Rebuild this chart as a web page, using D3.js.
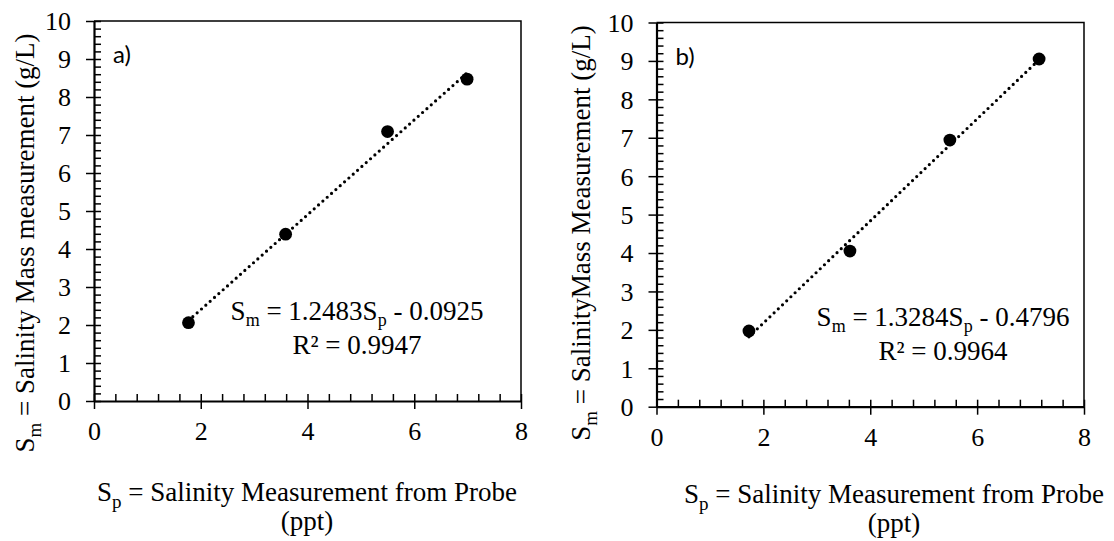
<!DOCTYPE html>
<html>
<head>
<meta charset="utf-8">
<script src="https://cdn.jsdelivr.net/npm/d3@7"></script>
<style>
  body { margin: 0; background: #fff; }
</style>
</head>
<body>
<svg id="chart" width="1114" height="541"></svg>
<script>
// axis ticks
var xTicks = [0, 2, 4, 6, 8];
var yTicks = [0, 1, 2, 3, 4, 5, 6, 7, 8, 9, 10];

// panel a) measured points
var spA = [1.77, 3.59, 5.50, 6.99];
var smA = [2.06, 4.39, 7.09, 8.47];
// panel b) measured points
var spB = [1.73, 3.62, 5.49, 7.16];
var smB = [1.97, 4.05, 6.94, 9.05];

// linear fits
var slopes = [1.2483, 1.3284];
var intercepts = [-0.0925, -0.4796];
var rSquared = ["0.9947", "0.9964"];
var panelTags = ["a)", "b)"];
var yLabels = ["= Salinity Mass measurement (g/L)", "= SalinityMass Measurement (g/L)"];

var SERIF = "'Liberation Serif', 'Times New Roman', serif";
var SANS = "Lato, 'Liberation Sans', sans-serif";

var svg = d3.select("#chart");

function drawPanel(p) {
    var x = d3.scaleLinear().domain([0, 8]).range([p.left, p.right]);
    var y = d3.scaleLinear().domain([0, 10]).range([p.bottom, p.top]);

    var g = svg.append("g");

    // frame top / right
    g.append("path")
        .attr("d", "M" + x(0) + "," + y(10) + "H" + x(8) + "V" + y(0))
        .attr("fill", "none").attr("stroke", "#000").attr("stroke-width", 1.5);

    var minorY = d3.range(0, 10.01, 0.2);
    var minorX = d3.range(0, 8.01, 0.4);

    // inner ticks (minor + major)
    g.append("g")
        .attr("transform", "translate(" + x(0) + ",0)")
        .call(d3.axisRight(y).tickValues(minorY).tickSize(7).tickFormat(""))
        .call(function(s) { s.select(".domain").remove(); s.selectAll("line").attr("stroke-width", 1.5); });
    g.append("g")
        .attr("transform", "translate(0," + y(0) + ")")
        .call(d3.axisTop(x).tickValues(minorX).tickSize(7).tickFormat(""))
        .call(function(s) { s.select(".domain").remove(); s.selectAll("line").attr("stroke-width", 1.5); });

    // outer major ticks + labels
    var ya = g.append("g")
        .attr("transform", "translate(" + x(0) + ",0)")
        .call(d3.axisLeft(y).tickValues(yTicks).tickSize(8).tickSizeOuter(0).tickPadding(15).tickFormat(d3.format("d")));
    ya.attr("font-family", SERIF).attr("font-size", 26);
    ya.select(".domain").attr("stroke-width", 2.2);
    ya.selectAll("line").attr("stroke-width", 1.5);
    ya.selectAll("text").attr("dy", "0.34em").attr("fill", "#000");

    var xa = g.append("g")
        .attr("transform", "translate(0," + y(0) + ")")
        .call(d3.axisBottom(x).tickValues(xTicks).tickSize(8).tickSizeOuter(0).tickPadding(13).tickFormat(d3.format("d")));
    xa.attr("font-family", SERIF).attr("font-size", 26);
    xa.select(".domain").attr("stroke-width", 2.2);
    xa.selectAll("line").attr("stroke-width", 1.5);
    xa.selectAll("text").attr("fill", "#000");

    // trendline
    var xs = d3.extent(p.sp);
    var fit = xs.map(function(v) { return [v, p.slope * v + p.intercept]; });
    g.append("path")
        .datum(fit)
        .attr("d", d3.line().x(function(d) { return x(d[0]); }).y(function(d) { return y(d[1]); }))
        .attr("fill", "none").attr("stroke", "#000")
        .attr("stroke-width", 3.2)
        .attr("stroke-linecap", "round")
        .attr("stroke-dasharray", "0 5.8");

    // points
    g.selectAll("circle")
        .data(p.sp.map(function(v, i) { return [v, p.sm[i]]; }))
        .enter().append("circle")
        .attr("cx", function(d) { return x(d[0]); })
        .attr("cy", function(d) { return y(d[1]); })
        .attr("r", 6.4)
        .attr("fill", "#000");

    // panel tag
    g.append("text")
        .attr("x", x(0) + 19).attr("y", y(10) + 42)
        .style("font-family", SANS).style("font-size", "24px")
        .text(p.tag);

    // equation
    var eq = g.append("text")
        .attr("x", p.eqX).attr("y", p.eqY)
        .attr("text-anchor", "middle")
        .style("font-family", SERIF).style("font-size", "27px");
    eq.append("tspan").text("S");
    eq.append("tspan").attr("dy", 6).style("font-size", "18px").text("m");
    eq.append("tspan").attr("dy", -6).text(" = " + p.slope.toFixed(4) + "S");
    eq.append("tspan").attr("dy", 6).style("font-size", "18px").text("p");
    eq.append("tspan").attr("dy", -6).text(" - " + Math.abs(p.intercept).toFixed(4));
    g.append("text")
        .attr("x", p.eqX).attr("y", p.eqY + 34)
        .attr("text-anchor", "middle")
        .style("font-family", SERIF).style("font-size", "27px")
        .text("R\u00B2 = " + p.r2);

    // x label
    var xl = g.append("text")
        .attr("x", p.xlX).attr("y", p.xlY)
        .attr("text-anchor", "middle")
        .style("font-family", SERIF).style("font-size", "27px");
    xl.append("tspan").text("S");
    xl.append("tspan").attr("dy", 7).style("font-size", "19px").text("p");
    xl.append("tspan").attr("dy", -7).text(" = Salinity Measurement from Probe");
    g.append("text")
        .attr("x", p.xlX).attr("y", p.xlY + 29)
        .attr("text-anchor", "middle")
        .style("font-family", SERIF).style("font-size", "27px")
        .text("(ppt)");

    // y label
    var yl = g.append("text")
        .attr("transform", "translate(" + p.ylX + "," + p.ylY + ") rotate(-90)")
        .attr("text-anchor", "middle")
        .style("font-family", SERIF).style("font-size", "27px");
    yl.append("tspan").text("S");
    yl.append("tspan").attr("dy", 7).style("font-size", "19px").text("m");
    yl.append("tspan").attr("dy", -7).text(" " + p.ylabel);
}

drawPanel({
    left: 94, right: 521, top: 21, bottom: 401,
    sp: spA, sm: smA, slope: slopes[0], intercept: intercepts[0], r2: rSquared[0],
    tag: panelTags[0], ylabel: yLabels[0],
    eqX: 357, eqY: 320, xlX: 307, xlY: 501, ylX: 34, ylY: 243
});
drawPanel({
    left: 656.5, right: 1084, top: 22.5, bottom: 406.7,
    sp: spB, sm: smB, slope: slopes[1], intercept: intercepts[1], r2: rSquared[1],
    tag: panelTags[1], ylabel: yLabels[1],
    eqX: 943, eqY: 326, xlX: 894, xlY: 503, ylX: 590, ylY: 233
});
</script>
</body>
</html>
